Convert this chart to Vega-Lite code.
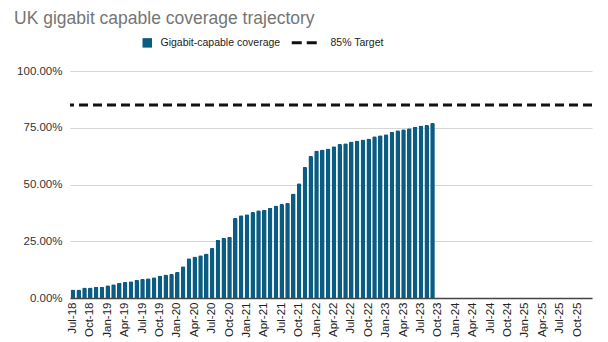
{
  "$schema": "https://vega.github.io/schema/vega-lite/v6.json",
  "width": 522,
  "height": 227,
  "autosize": {"type": "none"},
  "padding": {"left": 70, "top": 71, "right": 16, "bottom": 44},
  "background": "white",
  "config": {
    "font": "Liberation Sans",
    "view": {"stroke": null}
  },
  "title": {
    "text": "UK gigabit capable coverage trajectory",
    "anchor": "start",
    "frame": "group",
    "dx": -56,
    "offset": 10,
    "fontSize": 17.5,
    "fontWeight": "normal",
    "color": "#757575",
    "font": "Liberation Sans"
  },
  "datasets": {
    "coverage": [
      {"month": "Jul-18", "value": 0.037, "series": "Gigabit-capable coverage"},
      {"month": "Aug-18", "value": 0.037, "series": "Gigabit-capable coverage"},
      {"month": "Sep-18", "value": 0.046, "series": "Gigabit-capable coverage"},
      {"month": "Oct-18", "value": 0.046, "series": "Gigabit-capable coverage"},
      {"month": "Nov-18", "value": 0.050, "series": "Gigabit-capable coverage"},
      {"month": "Dec-18", "value": 0.050, "series": "Gigabit-capable coverage"},
      {"month": "Jan-19", "value": 0.056, "series": "Gigabit-capable coverage"},
      {"month": "Feb-19", "value": 0.061, "series": "Gigabit-capable coverage"},
      {"month": "Mar-19", "value": 0.067, "series": "Gigabit-capable coverage"},
      {"month": "Apr-19", "value": 0.071, "series": "Gigabit-capable coverage"},
      {"month": "May-19", "value": 0.074, "series": "Gigabit-capable coverage"},
      {"month": "Jun-19", "value": 0.080, "series": "Gigabit-capable coverage"},
      {"month": "Jul-19", "value": 0.084, "series": "Gigabit-capable coverage"},
      {"month": "Aug-19", "value": 0.087, "series": "Gigabit-capable coverage"},
      {"month": "Sep-19", "value": 0.091, "series": "Gigabit-capable coverage"},
      {"month": "Oct-19", "value": 0.099, "series": "Gigabit-capable coverage"},
      {"month": "Nov-19", "value": 0.103, "series": "Gigabit-capable coverage"},
      {"month": "Dec-19", "value": 0.106, "series": "Gigabit-capable coverage"},
      {"month": "Jan-20", "value": 0.115, "series": "Gigabit-capable coverage"},
      {"month": "Feb-20", "value": 0.140, "series": "Gigabit-capable coverage"},
      {"month": "Mar-20", "value": 0.175, "series": "Gigabit-capable coverage"},
      {"month": "Apr-20", "value": 0.183, "series": "Gigabit-capable coverage"},
      {"month": "May-20", "value": 0.188, "series": "Gigabit-capable coverage"},
      {"month": "Jun-20", "value": 0.196, "series": "Gigabit-capable coverage"},
      {"month": "Jul-20", "value": 0.220, "series": "Gigabit-capable coverage"},
      {"month": "Aug-20", "value": 0.257, "series": "Gigabit-capable coverage"},
      {"month": "Sep-20", "value": 0.265, "series": "Gigabit-capable coverage"},
      {"month": "Oct-20", "value": 0.270, "series": "Gigabit-capable coverage"},
      {"month": "Nov-20", "value": 0.352, "series": "Gigabit-capable coverage"},
      {"month": "Dec-20", "value": 0.365, "series": "Gigabit-capable coverage"},
      {"month": "Jan-21", "value": 0.369, "series": "Gigabit-capable coverage"},
      {"month": "Feb-21", "value": 0.379, "series": "Gigabit-capable coverage"},
      {"month": "Mar-21", "value": 0.387, "series": "Gigabit-capable coverage"},
      {"month": "Apr-21", "value": 0.389, "series": "Gigabit-capable coverage"},
      {"month": "May-21", "value": 0.398, "series": "Gigabit-capable coverage"},
      {"month": "Jun-21", "value": 0.407, "series": "Gigabit-capable coverage"},
      {"month": "Jul-21", "value": 0.414, "series": "Gigabit-capable coverage"},
      {"month": "Aug-21", "value": 0.419, "series": "Gigabit-capable coverage"},
      {"month": "Sep-21", "value": 0.460, "series": "Gigabit-capable coverage"},
      {"month": "Oct-21", "value": 0.505, "series": "Gigabit-capable coverage"},
      {"month": "Nov-21", "value": 0.577, "series": "Gigabit-capable coverage"},
      {"month": "Dec-21", "value": 0.626, "series": "Gigabit-capable coverage"},
      {"month": "Jan-22", "value": 0.650, "series": "Gigabit-capable coverage"},
      {"month": "Feb-22", "value": 0.654, "series": "Gigabit-capable coverage"},
      {"month": "Mar-22", "value": 0.659, "series": "Gigabit-capable coverage"},
      {"month": "Apr-22", "value": 0.668, "series": "Gigabit-capable coverage"},
      {"month": "May-22", "value": 0.678, "series": "Gigabit-capable coverage"},
      {"month": "Jun-22", "value": 0.682, "series": "Gigabit-capable coverage"},
      {"month": "Jul-22", "value": 0.689, "series": "Gigabit-capable coverage"},
      {"month": "Aug-22", "value": 0.694, "series": "Gigabit-capable coverage"},
      {"month": "Sep-22", "value": 0.698, "series": "Gigabit-capable coverage"},
      {"month": "Oct-22", "value": 0.703, "series": "Gigabit-capable coverage"},
      {"month": "Nov-22", "value": 0.713, "series": "Gigabit-capable coverage"},
      {"month": "Dec-22", "value": 0.717, "series": "Gigabit-capable coverage"},
      {"month": "Jan-23", "value": 0.721, "series": "Gigabit-capable coverage"},
      {"month": "Feb-23", "value": 0.732, "series": "Gigabit-capable coverage"},
      {"month": "Mar-23", "value": 0.739, "series": "Gigabit-capable coverage"},
      {"month": "Apr-23", "value": 0.743, "series": "Gigabit-capable coverage"},
      {"month": "May-23", "value": 0.748, "series": "Gigabit-capable coverage"},
      {"month": "Jun-23", "value": 0.754, "series": "Gigabit-capable coverage"},
      {"month": "Jul-23", "value": 0.760, "series": "Gigabit-capable coverage"},
      {"month": "Aug-23", "value": 0.762, "series": "Gigabit-capable coverage"},
      {"month": "Sep-23", "value": 0.771, "series": "Gigabit-capable coverage"}
    ],
    "target": [
      {"target": 0.85, "series": "85% Target"}
    ]
  },
  "layer": [
    {
      "data": {"name": "coverage"},
      "mark": {"type": "bar", "cornerRadiusTopLeft": 1.5, "cornerRadiusTopRight": 1.5},
      "encoding": {
        "x": {
          "field": "month",
          "type": "ordinal",
          "sort": null,
          "scale": {
            "domain": ["Jul-18","Aug-18","Sep-18","Oct-18","Nov-18","Dec-18",
              "Jan-19","Feb-19","Mar-19","Apr-19","May-19","Jun-19","Jul-19","Aug-19","Sep-19","Oct-19","Nov-19","Dec-19",
              "Jan-20","Feb-20","Mar-20","Apr-20","May-20","Jun-20","Jul-20","Aug-20","Sep-20","Oct-20","Nov-20","Dec-20",
              "Jan-21","Feb-21","Mar-21","Apr-21","May-21","Jun-21","Jul-21","Aug-21","Sep-21","Oct-21","Nov-21","Dec-21",
              "Jan-22","Feb-22","Mar-22","Apr-22","May-22","Jun-22","Jul-22","Aug-22","Sep-22","Oct-22","Nov-22","Dec-22",
              "Jan-23","Feb-23","Mar-23","Apr-23","May-23","Jun-23","Jul-23","Aug-23","Sep-23","Oct-23","Nov-23","Dec-23",
              "Jan-24","Feb-24","Mar-24","Apr-24","May-24","Jun-24","Jul-24","Aug-24","Sep-24","Oct-24","Nov-24","Dec-24",
              "Jan-25","Feb-25","Mar-25","Apr-25","May-25","Jun-25","Jul-25","Aug-25","Sep-25","Oct-25","Nov-25","Dec-25"],
            "paddingInner": 0.2,
            "paddingOuter": 0.1
          },
          "axis": {
            "title": null,
            "values": ["Jul-18","Oct-18","Jan-19","Apr-19","Jul-19","Oct-19","Jan-20","Apr-20","Jul-20","Oct-20",
              "Jan-21","Apr-21","Jul-21","Oct-21","Jan-22","Apr-22","Jul-22","Oct-22","Jan-23","Apr-23","Jul-23","Oct-23",
              "Jan-24","Apr-24","Jul-24","Oct-24","Jan-25","Apr-25","Jul-25","Oct-25"],
            "labelAngle": -90,
            "labelFontSize": 11.5,
            "labelColor": "#222222",
            "labelPadding": 4,
            "ticks": false,
            "domainColor": "#444444",
            "domainWidth": 1.5,
            "grid": false
          }
        },
        "y": {
          "field": "value",
          "type": "quantitative",
          "scale": {"domain": [0, 1], "nice": false},
          "axis": {
            "title": null,
            "values": [0, 0.25, 0.5, 0.75, 1],
            "format": ".2%",
            "labelFontSize": 11.5,
            "labelColor": "#333333",
            "labelPadding": 8,
            "ticks": false,
            "domain": false,
            "gridColor": "#d6d6d6",
            "gridWidth": 1
          }
        },
        "color": {
          "field": "series",
          "type": "nominal",
          "scale": {
            "domain": ["Gigabit-capable coverage", "85% Target"],
            "range": ["#0b5c82", "#111111"]
          },
          "legend": {
            "title": null,
            "orient": "none",
            "direction": "horizontal",
            "legendX": 72,
            "legendY": -34,
            "labelFontSize": 10.5,
            "labelColor": "#222222",
            "symbolSize": 90,
            "columnPadding": 4,
            "labelOffset": 8,
            "encode": {
              "symbols": {
                "update": {
                  "shape": {"signal": "datum.value === '85% Target' ? 'stroke' : 'square'"},
                  "size": {"signal": "datum.value === '85% Target' ? 625 : 90"},
                  "strokeDash": {"signal": "datum.value === '85% Target' ? [10, 5] : []"},
                  "strokeWidth": {"signal": "datum.value === '85% Target' ? 3 : 0"},
                  "stroke": {"signal": "datum.value === '85% Target' ? '#111111' : null"},
                  "fill": {"signal": "datum.value === '85% Target' ? null : '#0b5c82'"},
                  "opacity": {"value": 1}
                }
              },
              "labels": {
                "update": {
                  "dx": {"signal": "datum.value === '85% Target' ? 13 : 0"}
                }
              }
            }
          }
        }
      }
    },
    {
      "data": {"name": "target"},
      "mark": {"type": "rule", "strokeDash": [9, 5], "strokeWidth": 3},
      "encoding": {
        "y": {"field": "target", "type": "quantitative"},
        "color": {"field": "series", "type": "nominal"}
      }
    }
  ]
}
